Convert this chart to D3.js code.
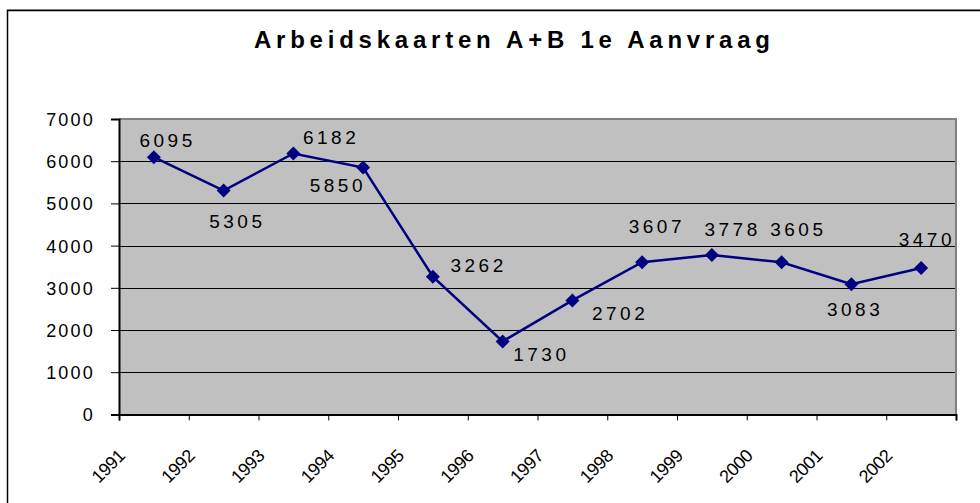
<!DOCTYPE html>
<html>
<head>
<meta charset="utf-8">
<script src="https://cdn.jsdelivr.net/npm/d3@7"></script>
<style>
  html, body { margin: 0; padding: 0; background: #fff; }
  svg { display: block; }
  text { font-family: "Liberation Sans", Arial, sans-serif; }
</style>
</head>
<body>
<svg id="chart" width="980" height="503"></svg>
<script>
// ---- data ----
const title = "Arbeidskaarten A+B 1e Aanvraag";
const years = ["1991","1992","1993","1994","1995","1996","1997","1998","1999","2000","2001","2002"];
const values = [6095, 5305, 6182, 5850, 3262, 1730, 2702, 3607, 3778, 3605, 3083, 3470];
const yTicks = [0, 1000, 2000, 3000, 4000, 5000, 6000, 7000];
// label placement offsets relative to marker (layout, not data)
const labelDx = [12, 12, 36, -27, 44, 37, 46, 13, 19, 15, 2, 4];
const labelDy = [-10, 37, -10, 24, -5, 20, 20, -29, -19, -26, 32, -22];

const svg = d3.select("#chart");
const plot = { left: 119, right: 956, top: 119, bottom: 414.4 };

// outer frame (extends beyond the window on right/bottom)
svg.append("line").attr("x1", 7).attr("x2", 980).attr("y1", 9.5).attr("y2", 9.5)
  .attr("stroke", "#aaa").attr("stroke-width", 1);
svg.append("rect").attr("x", 7.5).attr("y", 10.5).attr("width", 1000).attr("height", 600)
  .attr("fill", "none").attr("stroke", "#000").attr("stroke-width", 1.5);

// title
const t = svg.append("text").attr("x", 512).attr("y", 48)
  .attr("text-anchor", "middle").attr("font-size", 24).attr("font-weight", "bold")
  .attr("fill", "#000").text(title);
// fit letter spacing so the title spans the reference width
{
  const target = 516;
  const w0 = t.node().getComputedTextLength();
  const ls = (target - w0) / (title.length - 1);
  t.attr("letter-spacing", ls + "px").attr("x", 512 + ls / 2);
}

const xIdx = d3.scaleLinear().domain([0, years.length]).range([plot.left, plot.right]);
const y = d3.scaleLinear().domain([0, 7000]).range([plot.bottom, plot.top]);

// plot background
svg.append("rect").attr("x", plot.left).attr("y", plot.top)
  .attr("width", plot.right - plot.left).attr("height", plot.bottom - plot.top)
  .attr("fill", "#c0c0c0");

// gridlines
svg.append("g").selectAll("line").data(yTicks.filter(v => v > 0 && v < 7000)).join("line")
  .attr("x1", plot.left).attr("x2", plot.right)
  .attr("y1", d => Math.round(y(d)) + 0.5).attr("y2", d => Math.round(y(d)) + 0.5)
  .attr("stroke", "#000").attr("stroke-width", 1);

// top & right border (gray)
svg.append("path")
  .attr("d", `M${plot.left},${plot.top} H${plot.right} V${plot.bottom}`)
  .attr("fill", "none").attr("stroke", "#808080").attr("stroke-width", 2);

// y axis
const yAxis = d3.axisLeft(y).tickValues(yTicks).tickSize(8).tickPadding(4).tickFormat(d3.format("d"));
const gy = svg.append("g").attr("transform", `translate(${plot.left},0)`).call(yAxis);
gy.select(".domain").attr("stroke", "#000").attr("stroke-width", 2);
gy.selectAll(".tick line").attr("stroke", "#000").attr("stroke-width", 1);
gy.selectAll(".tick text").attr("font-size", 18).attr("letter-spacing", "2.2px")
  .attr("fill", "#000").attr("x", -24).attr("dy", "0.36em")
  .style("font-family", '"Liberation Sans", Arial, sans-serif');

// x axis
const xAxis = d3.axisBottom(xIdx).tickValues(d3.range(years.length + 1)).tickSize(6).tickFormat("");
const gx = svg.append("g").attr("transform", `translate(0,${plot.bottom})`).call(xAxis);
gx.select(".domain").attr("stroke", "#000").attr("stroke-width", 2);
gx.selectAll(".tick line").attr("stroke", "#000").attr("stroke-width", 1);

svg.append("g").selectAll("text").data(years).join("text")
  .attr("transform", (d, i) => `translate(${xIdx(i) + 7},${457}) rotate(-45)`)
  .attr("text-anchor", "end").attr("font-size", 18).attr("letter-spacing", "-0.5px")
  .attr("fill", "#000")
  .text(d => d);

// line
const cx = i => xIdx(i + 0.5);
const line = d3.line().x((d, i) => cx(i)).y(d => y(d));
svg.append("path").datum(values).attr("d", line)
  .attr("fill", "none").attr("stroke", "#000080").attr("stroke-width", 2.5);

// diamond markers
svg.append("g").selectAll("path").data(values).join("path")
  .attr("transform", (d, i) => `translate(${cx(i)},${y(d)})`)
  .attr("d", "M0,-7 L7,0 L0,7 L-7,0 Z")
  .attr("fill", "#000080");

// data labels
const LS = 3.5;
svg.append("g").selectAll("text").data(values).join("text")
  .attr("x", (d, i) => cx(i) + labelDx[i] + LS / 2)
  .attr("y", (d, i) => y(d) + labelDy[i])
  .attr("text-anchor", "middle").attr("font-size", 19)
  .attr("letter-spacing", LS + "px").attr("fill", "#000")
  .text(d => d);
</script>
</body>
</html>
